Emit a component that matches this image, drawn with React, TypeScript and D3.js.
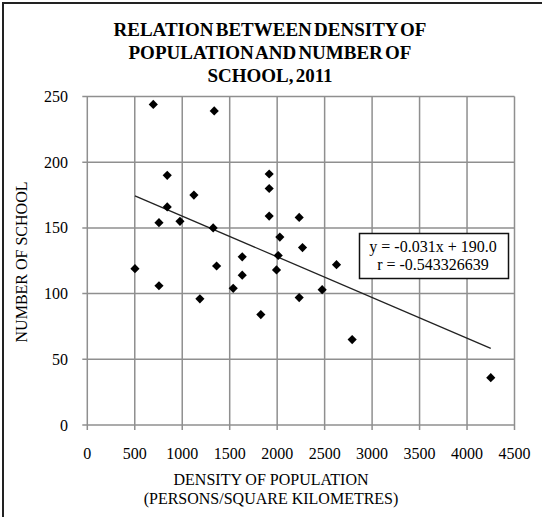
import React, { useRef, useEffect } from "react";
import * as d3 from "d3";

// density of population (persons / sq km) vs number of schools
const density = [
  695, 1337, 842, 1123, 842, 1916, 1916, 755, 976, 1326, 502, 1362, 755, 1186, 1916,
  2232, 2028, 2267, 2011, 1632, 2625, 1993, 1632, 1537, 2474, 2232, 1828, 2790, 4250,
];
const schools = [
  244, 239, 190, 175, 166, 191, 180, 154, 155, 150, 119, 121, 106, 96, 159,
  158, 143, 135, 129, 128, 122, 118, 114, 104, 103, 97, 84, 65, 36,
];
const xTicks = [0, 500, 1000, 1500, 2000, 2500, 3000, 3500, 4000, 4500];
const yTicks = [0, 50, 100, 150, 200, 250];
const slope = -0.031;
const intercept = 190.0;
const trendLabel = ["y = -0.031x + 190.0", "r = -0.543326639"];
const titleLines = [
  "RELATION BETWEEN DENSITY OF",
  "POPULATION AND NUMBER OF",
  "SCHOOL, 2011",
];
const xTitle = ["DENSITY OF POPULATION", "(PERSONS/SQUARE KILOMETRES)"];
const yTitle = "NUMBER OF SCHOOL";

const W = 542;
const H = 517;

const App = () => {
  const ref = useRef<SVGSVGElement>(null);

  useEffect(() => {
    const svg = d3.select(ref.current);
    svg.selectAll("*").remove();
    const font = "Liberation Serif, DejaVu Serif, serif";

    const x = d3.scaleLinear().domain([0, 4500]).range([87.3, 514.5]);
    const y = d3.scaleLinear().domain([0, 250]).range([425, 96.5]);

    // outer frame
    svg
      .append("rect")
      .attr("x", 3)
      .attr("y", 3)
      .attr("width", W + 10)
      .attr("height", H + 10)
      .attr("fill", "#fff")
      .attr("stroke", "#222")
      .attr("stroke-width", 2);

    // title
    const title = svg
      .append("text")
      .attr("text-anchor", "middle")
      .style("font-family", font)
      .attr("font-weight", "bold")
      .attr("font-size", 19)
      .attr("word-spacing", -2.5)
      .attr("fill", "#000");
    titleLines.forEach((t, i) => {
      title
        .append("tspan")
        .attr("x", 270)
        .attr("y", 36 + i * 23)
        .text(t);
    });

    const grid = "#8f8f8f";

    // grid lines
    svg
      .append("g")
      .selectAll("line")
      .data(xTicks)
      .join("line")
      .attr("x1", (d) => x(d))
      .attr("x2", (d) => x(d))
      .attr("y1", y(250))
      .attr("y2", y(0) + 5)
      .attr("stroke", grid)
      .attr("stroke-width", 1.5);

    svg
      .append("g")
      .selectAll("line")
      .data(yTicks)
      .join("line")
      .attr("x1", x(0) - 5)
      .attr("x2", x(4500))
      .attr("y1", (d) => y(d))
      .attr("y2", (d) => y(d))
      .attr("stroke", grid)
      .attr("stroke-width", 1.5);

    // tick labels
    svg
      .append("g")
      .selectAll("text")
      .data(yTicks)
      .join("text")
      .attr("x", 68)
      .attr("y", (d) => y(d) + 5.5)
      .attr("text-anchor", "end")
      .style("font-family", font)
      .attr("font-size", 16)
      .attr("fill", "#000")
      .text((d) => d);

    svg
      .append("g")
      .selectAll("text")
      .data(xTicks)
      .join("text")
      .attr("x", (d) => x(d))
      .attr("y", 459)
      .attr("text-anchor", "middle")
      .style("font-family", font)
      .attr("font-size", 16)
      .attr("fill", "#000")
      .text((d) => d);

    // axis titles
    const xt = svg
      .append("text")
      .attr("text-anchor", "middle")
      .style("font-family", font)
      .attr("font-size", 16)
      .attr("fill", "#000");
    xTitle.forEach((t, i) => {
      xt.append("tspan").attr("x", 271).attr("y", 485 + i * 19).text(t);
    });

    svg
      .append("text")
      .attr("transform", `translate(27,262) rotate(-90)`)
      .attr("text-anchor", "middle")
      .style("font-family", font)
      .attr("font-size", 16)
      .attr("fill", "#000")
      .text(yTitle);

    // trend line
    const [xMin, xMax] = d3.extent(density) as [number, number];
    const line = d3
      .line<number>()
      .x((d) => x(d))
      .y((d) => y(slope * d + intercept));
    svg
      .append("path")
      .datum([xMin, xMax])
      .attr("d", line)
      .attr("fill", "none")
      .attr("stroke", "#222")
      .attr("stroke-width", 1.3);

    // points
    const diamond = d3.symbol(d3.symbolSquare, 42)();
    svg
      .append("g")
      .selectAll("path")
      .data(density.map((d, i) => [d, schools[i]]))
      .join("path")
      .attr("d", diamond)
      .attr("transform", (d) => `translate(${x(d[0])},${y(d[1])}) rotate(45)`)
      .attr("fill", "#000");

    // equation box
    const box = svg.append("g");
    box
      .append("rect")
      .attr("x", 359.5)
      .attr("y", 233.5)
      .attr("width", 149)
      .attr("height", 45)
      .attr("fill", "#fff")
      .attr("stroke", "#111")
      .attr("stroke-width", 1.5);
    trendLabel.forEach((t, i) => {
      box
        .append("text")
        .attr("x", 433)
        .attr("y", 252 + i * 18)
        .attr("text-anchor", "middle")
        .style("font-family", font)
        .attr("font-size", 16)
        .attr("fill", "#000")
        .text(t);
    });
  }, []);

  return (
    <svg
      ref={ref}
      width={W}
      height={H}
      style={{ position: "absolute", left: 0, top: 0, background: "#fff" }}
    />
  );
};

export default App;
